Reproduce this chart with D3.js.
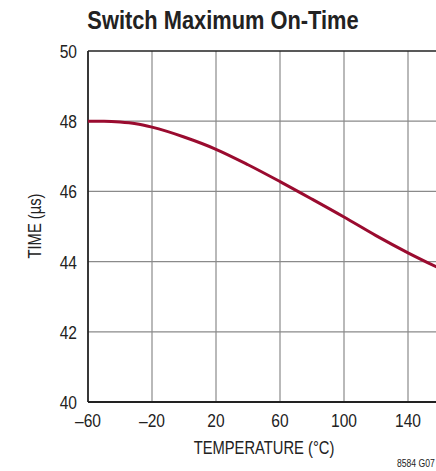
<!DOCTYPE html>
<html><head><meta charset="utf-8">
<script src="https://cdn.jsdelivr.net/npm/d3@7"></script>
<style>
html,body{margin:0;padding:0;background:#fff;}
text{font-family:"Liberation Sans Narrow","Arial Narrow","Liberation Sans",Arial,sans-serif;}
</style></head>
<body><svg id="c" width="436" height="471"></svg>
<script>
const temps = [-60, -50, -40, -30, -20, 0, 20, 40, 60, 80, 100, 120, 140, 160];
const times = [48.0, 48.0, 47.98, 47.93, 47.83, 47.55, 47.2, 46.76, 46.28, 45.78, 45.27, 44.74, 44.25, 43.8];
const xTicks = [-60, -20, 20, 60, 100, 140];
const yTicks = [40, 42, 44, 46, 48, 50];
const title = "Switch Maximum On-Time";
const xLabel = "TEMPERATURE (°C)";
const yLabel = "TIME (µs)";
const note = "8584 G07";

const svg = d3.select("#c");
const L = 88, T = 51, B = 402, R = 440;
const x = d3.scaleLinear().domain([-60, 160]).range([L, R]);
const y = d3.scaleLinear().domain([40, 50]).range([B, T]);

function ntext(parent, px, py, size, anchor, str, opts) {
  opts = opts || {};
  const sx = opts.sx || 0.82;
  const t = parent.append("text")
    .attr("transform", `translate(${px},${py})` + (opts.rot ? ` rotate(${opts.rot})` : "") + ` scale(${sx},1)`)
    .attr("text-anchor", anchor).attr("font-size", size).attr("fill", "#222").text(str);
  if (opts.bold) t.attr("font-weight", "bold");
  return t;
}

const g = svg.append("g");
// grid
g.selectAll(".vx").data(xTicks.slice(1)).enter().append("line")
  .attr("x1", d => x(d)).attr("x2", d => x(d)).attr("y1", T).attr("y2", B)
  .attr("stroke", "#8a8a8a").attr("stroke-width", 1.2);
g.selectAll(".hy").data(yTicks.slice(1, -1)).enter().append("line")
  .attr("x1", L).attr("x2", R).attr("y1", d => y(d)).attr("y2", d => y(d))
  .attr("stroke", "#8a8a8a").attr("stroke-width", 1.2);
// frame
g.append("line").attr("x1", L).attr("x2", R).attr("y1", T).attr("y2", T).attr("stroke", "#222").attr("stroke-width", 1.5);
g.append("line").attr("x1", L).attr("x2", R).attr("y1", B).attr("y2", B).attr("stroke", "#222").attr("stroke-width", 1.8);
g.append("line").attr("x1", L).attr("x2", L).attr("y1", T).attr("y2", B).attr("stroke", "#222").attr("stroke-width", 1.8);

// curve
const line = d3.line().x((d, i) => x(temps[i])).y(d => y(d)).curve(d3.curveMonotoneX);
g.append("path").attr("d", line(times)).attr("fill", "none")
  .attr("stroke", "#9a0b2f").attr("stroke-width", 3);

// tick labels
xTicks.forEach(d => ntext(g, x(d), 427, 19, "middle", d < 0 ? "\u2013" + Math.abs(d) : String(d)));
yTicks.forEach(d => ntext(g, 77, y(d) + 7, 19, "end", String(d)));

ntext(svg, 223, 29, 26, "middle", title, {bold: true, sx: 0.84});
ntext(svg, 264, 454, 18, "middle", xLabel);
ntext(svg, 41, 226, 18, "middle", yLabel, {rot: -90});
ntext(svg, 397, 467, 10.5, "start", note);
</script></body></html>
